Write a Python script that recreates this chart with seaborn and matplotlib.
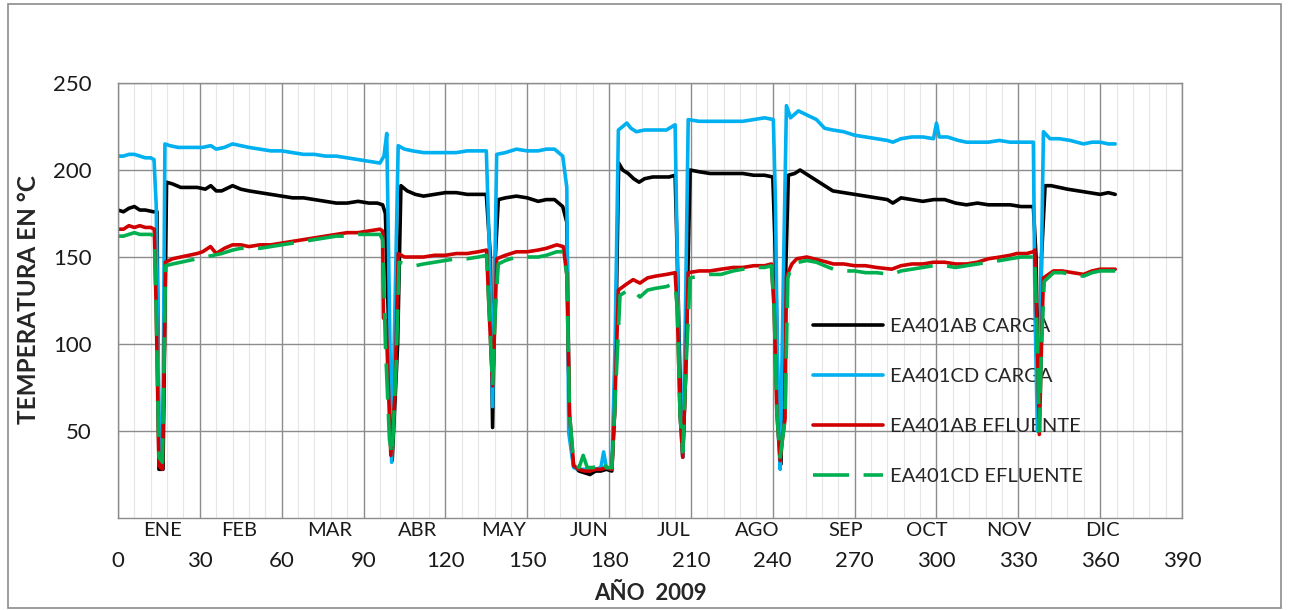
import numpy as np
import pandas as pd
import seaborn as sns
import matplotlib.pyplot as plt
from matplotlib.patches import Rectangle

# EA401AB CARGA (black)
ab_carga_dia = [0, 2, 4, 6, 8, 10, 13, 14.3, 15, 16.5, 17.8, 20, 23, 26, 29, 32, 34, 36, 38, 42, 45, 48,
                52, 56, 60, 64, 68, 72, 76, 80, 84, 88, 92, 95, 97, 98, 99, 100.5, 102.5, 103.7, 106, 109,
                112, 116, 120, 124, 128, 132, 135, 136.5, 137.3, 138.3, 139.4, 142, 146, 150, 154, 157, 160,
                163, 164.5, 165.5, 167, 169, 171, 173, 175, 177, 179, 181, 182, 183.5, 185, 187, 189, 191,
                193, 196, 199, 202, 204.2, 205, 206, 207, 208, 209, 209.7, 213, 217, 221, 225, 229, 233,
                237, 240, 241, 242, 243, 244, 245.7, 248, 250, 253, 256, 259, 262, 266, 270, 274, 278, 282,
                284, 287, 291, 295, 299, 303, 307, 311, 315, 319, 323, 327, 331, 335.5, 336.5, 337.5, 338.5,
                339.8, 342, 345, 348, 352, 356, 360, 363, 365.5]
ab_carga_temp = [177, 176, 178, 179, 177, 177, 176, 176, 28, 28, 193, 192, 190, 190, 190, 189, 191, 188, 188,
                 191, 189, 188, 187, 186, 185, 184, 184, 183, 182, 181, 181, 182, 181, 181, 180, 175, 120, 33,
                 100, 191, 188, 186, 185, 186, 187, 187, 186, 186, 186, 150, 52, 150, 183, 184, 185, 184, 182,
                 183, 183, 179, 170, 50, 30, 27, 26, 25, 27, 27, 28, 27, 60, 204, 200, 198, 195, 193, 195,
                 196, 196, 196, 197, 150, 80, 35, 80, 150, 200, 199, 198, 198, 198, 198, 197, 197, 196, 150,
                 60, 31, 100, 197, 198, 200, 197, 194, 191, 188, 187, 186, 185, 184, 183, 181, 184, 183, 182,
                 183, 183, 181, 180, 181, 180, 180, 180, 179, 179, 150, 50, 150, 191, 191, 190, 189, 188, 187,
                 186, 187, 186]

# EA401CD CARGA (light blue)
cd_carga_dia = [0, 2, 4, 6, 8, 10, 12, 13.2, 14, 15, 16, 16.5, 17.2, 19, 22, 25, 28, 31, 34, 36, 39, 42, 45,
                48, 52, 56, 60, 64, 68, 72, 76, 80, 84, 88, 92, 96, 97.5, 98.5, 99.2, 100.3, 101.5, 102.7, 105,
                108, 112, 116, 120, 124, 128, 132, 135, 136.2, 137.3, 138.3, 138.8, 142, 146, 150, 154, 157,
                160, 163, 164.5, 165.2, 167, 169, 171, 173, 175, 177, 178, 179, 181, 182.2, 183.4, 185, 186.5,
                188, 190, 193, 196, 199, 201, 204.2, 205, 206, 207, 208, 209, 213, 217, 221, 225, 229, 233,
                237, 240.2, 241, 242, 242.7, 244, 245, 246.5, 249.4, 252, 256, 259, 262, 266, 270, 274, 278,
                282, 284, 287, 291, 295, 298.9, 300, 301, 304, 308, 311, 315, 319, 323, 327, 331, 335.5,
                336.1, 337, 338, 339.2, 341.6, 345, 349, 353.9, 357, 360, 363, 365.5]
cd_carga_temp = [208, 208, 209, 209, 208, 207, 207, 206, 180, 60, 35, 60, 215, 214, 213, 213, 213, 213, 214,
                 212, 213, 215, 214, 213, 212, 211, 211, 210, 209, 209, 208, 208, 207, 206, 205, 204, 208,
                 221, 150, 32, 120, 214, 212, 211, 210, 210, 210, 210, 211, 211, 211, 150, 64, 160, 209, 210,
                 212, 211, 211, 212, 212, 208, 190, 49, 29, 28, 28, 28, 28, 29, 38, 29, 28, 100, 223, 225,
                 227, 224, 222, 223, 223, 223, 223, 226, 150, 60, 35, 120, 229, 228, 228, 228, 228, 228, 229,
                 230, 229, 180, 50, 28, 150, 237, 230, 234, 232, 229, 224, 223, 222, 220, 219, 218, 217, 216,
                 218, 219, 219, 218, 227, 219, 219, 217, 216, 216, 216, 217, 216, 216, 216, 120, 50, 100,
                 222, 218, 218, 217, 215, 216, 216, 215, 215]

# EA401AB EFLUENTE (red)
ab_efl_dia = [0, 2, 4, 6, 8, 10, 12, 13.3, 14, 15, 16.3, 17, 17.4, 20, 23, 26, 29, 31, 33.9, 36, 39, 42, 45,
              48, 52, 56, 60, 64, 68, 72, 76, 80, 84, 88, 92, 96, 97, 97.3, 98.3, 99, 100, 101.5, 102.7, 105,
              108, 112, 116, 120, 124, 128, 132, 135.1, 136, 137.3, 138.3, 138.8, 142, 146, 150, 154, 157,
              160.8, 163.2, 164.5, 165.5, 167, 169, 171, 173, 175, 177, 179, 181, 182, 183.4, 186, 188.8,
              191.3, 194.1, 197, 201, 204.2, 205, 206, 207, 208, 209, 213, 217, 221, 225.5, 229, 233, 237,
              239.5, 240.5, 241.5, 242.7, 243.5, 244.5, 245, 247, 248.8, 252.5, 255, 257.4, 260, 262.2, 266,
              270, 274, 278, 283.6, 287, 291, 295, 298.9, 303, 307, 311, 315, 319, 323.3, 327, 329.4, 333,
              335.5, 336, 337, 337.7, 338.5, 339.2, 342.9, 346, 350, 353.9, 357, 360, 363, 365.5]
ab_efl_temp = [166, 166, 168, 167, 168, 167, 167, 166, 120, 30, 28, 100, 147, 149, 150, 151, 152, 153, 156,
               152, 155, 157, 157, 156, 157, 157, 158, 159, 160, 161, 162, 163, 164, 164, 165, 166, 165, 115,
               113, 80, 36, 70, 152, 150, 150, 150, 151, 151, 152, 152, 153, 154, 120, 76, 120, 149, 151, 153,
               153, 154, 155, 157, 156, 140, 60, 30, 28, 27, 27, 28, 28, 29, 28, 60, 131, 134, 137, 135, 138,
               139, 140, 141, 120, 60, 35, 80, 141, 142, 142, 143, 144, 144, 145, 145, 146, 120, 60, 33, 45,
               57, 139, 146, 149, 150, 149, 148, 147, 146, 146, 145, 145, 144, 143, 145, 146, 146, 147, 147,
               146, 146, 147, 149, 150, 151, 152, 152, 153, 154, 100, 48, 100, 138, 142, 142, 141, 140, 142,
               143, 143, 143]

# EA401CD EFLUENTE (green, dashed)
cd_efl_dia = [0, 2, 4, 6, 8, 10, 12, 13.3, 14, 15, 16.3, 17, 17.4, 20, 23, 26, 29, 32, 35, 38, 42, 45, 48,
              52, 56, 60, 64, 68, 72, 76, 80, 84, 88, 92, 96, 97, 98, 99.5, 100.5, 102, 103, 106, 109, 112,
              116, 120, 124, 128, 132, 135.1, 136, 137.3, 138.3, 139.4, 142, 146, 150, 154, 157, 160.8, 163.2,
              164.5, 165.5, 167, 169, 170.5, 172, 174, 176, 177.5, 179, 181, 182, 184, 186, 188.8, 191.3,
              194.1, 197, 201, 204.2, 205, 206, 207, 208, 209.7, 213, 217, 221, 225.5, 229, 233, 237, 239.5,
              240.5, 241.5, 242.7, 243.5, 244.5, 245.5, 247, 249.4, 252.5, 256, 259, 262.2, 266, 270, 274,
              278, 283.6, 287, 291, 295, 298.9, 303, 307, 311, 315, 319, 323.3, 327, 331, 335.5, 336, 337,
              337.7, 338.5, 339.5, 342.9, 346, 350, 353.9, 357, 360, 363, 365.5]
cd_efl_temp = [162, 162, 163, 164, 163, 163, 163, 162, 120, 35, 32, 100, 145, 146, 147, 148, 149, 150, 151,
               152, 154, 155, 155, 155, 156, 157, 158, 159, 160, 161, 162, 162, 163, 163, 163, 160, 100, 45,
               36, 90, 147, 146, 145, 146, 147, 148, 149, 149, 150, 151, 120, 76, 120, 146, 148, 150, 150, 150,
               151, 153, 153, 140, 60, 32, 29, 36, 29, 29, 30, 33, 29, 29, 60, 128, 130, 131, 127, 131, 132,
               133, 135, 120, 60, 38, 80, 138, 139, 140, 140, 142, 143, 144, 144, 145, 120, 60, 35, 45, 57,
               138, 145, 147, 148, 147, 145, 143, 142, 142, 141, 141, 140, 142, 143, 144, 145, 145, 144, 145,
               146, 147, 148, 149, 150, 150, 151, 100, 50, 100, 136, 141, 141, 140, 139, 141, 142, 142, 142]

series_names = ["EA401AB CARGA", "EA401CD CARGA", "EA401AB EFLUENTE", "EA401CD EFLUENTE"]
meses = ["ENE", "FEB", "MAR", "ABR", "MAY", "JUN", "JUL", "AGO", "SEP", "OCT", "NOV", "DIC"]
mes_pos = [16.3, 44.5, 77.7, 109.8, 141.5, 172.7, 203.5, 234.4, 266.8, 296.4, 326.4, 360.7]

sns.set_theme(style="white")
plt.rcParams['font.family'] = ['Lato', 'DejaVu Sans']

fig = plt.figure(figsize=(12.91, 6.10), dpi=100)
ax = fig.add_axes([0.0914, 0.1508, 0.8242, 0.7131])

data = [(ab_carga_dia, ab_carga_temp, "#000000", "-"),
        (cd_carga_dia, cd_carga_temp, "#00B0F0", "-"),
        (ab_efl_dia, ab_efl_temp, "#D00000", "-"),
        (cd_efl_dia, cd_efl_temp, "#00B050", (0, (10, 4)))]

for name, (d, t, col, ls) in zip(series_names, data):
    sns.lineplot(x=d, y=t, ax=ax, color=col, linewidth=2.6, linestyle=ls,
                 label=name, solid_joinstyle="round", dash_joinstyle="round")

ax.set_xlim(0, 390)
ax.set_ylim(0, 250)
ax.set_xticks(np.arange(0, 391, 30))
ax.set_xticks(np.arange(0, 391, 6), minor=True)
ax.set_yticks([50, 100, 150, 200, 250])
ax.grid(which="minor", axis="x", color="#e6e6e6", lw=0.8)
ax.grid(which="major", color="#8c8c8c", lw=1)
ax.set_axisbelow(True)
for s in ax.spines.values():
    s.set_color("#8c8c8c")
    s.set_linewidth(1)
ax.tick_params(which="both", length=0, labelsize=16, colors="#1a1a1a")
ax.tick_params(axis="y", pad=19)
ax.tick_params(axis="x", pad=24)
ax.set_xlabel("")
ax.set_ylabel("")

for m, p in zip(meses, mes_pos):
    ax.text(p, -0.028, m, transform=ax.get_xaxis_transform(), ha="center", va="center",
            fontsize=14.5, color="#1a1a1a")

fig.text(650 / 1291, 1 - 594 / 610, "AÑO  2009", ha="center", va="center",
         fontsize=16, fontweight="bold")
fig.text(29 / 1291, 1 - 300 / 610, "TEMPERATURA EN °C", ha="center", va="center",
         rotation=90, fontsize=17.5, fontweight="bold")

leg = ax.legend(loc="upper left", bbox_to_anchor=(0.653, 0.461), frameon=False, fontsize=14.5,
                handlelength=3.5, handletextpad=0.35, labelspacing=1.64, borderpad=0, borderaxespad=0)
leg.set_zorder(1)

fig.patches.append(Rectangle((8 / 1291, 2 / 610), 1273 / 1291, 604 / 610, transform=fig.transFigure,
                             fill=False, edgecolor="#8c8c8c", lw=1.2))

plt.savefig("out.png", dpi=100)
